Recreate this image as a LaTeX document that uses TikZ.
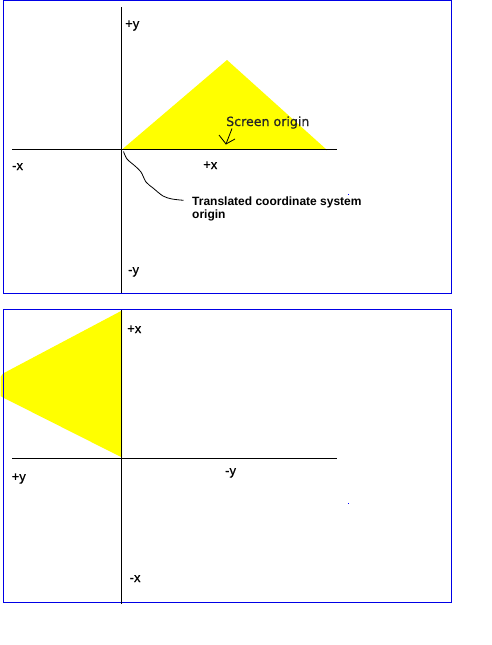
\documentclass[tikz,border=0pt]{standalone}
\usepackage{fontspec}
\setmainfont{Liberation Sans}
\newfontfamily\lblfont[FakeBold=0.6]{Liberation Sans}
\newfontfamily\scrfont[FakeBold=0.8]{DejaVu Sans}
\begin{document}
\begin{tikzpicture}[x=1pt,y=-1pt,
  frame/.style={draw={rgb,255:red,0;green,0;blue,230},line width=1.3pt},
  axis/.style={draw=black,line width=1.1pt},
  lbl/.style={inner sep=0pt,anchor=base west,font=\lblfont\fontsize{13}{13}\selectfont},
  bold/.style={inner sep=0pt,anchor=base west,font=\fontsize{12}{14}\selectfont\bfseries},
  fillY/.style={fill={rgb,255:red,255;green,255;blue,0}}]
\useasboundingbox (0,0) rectangle (491,645);
% ---------- top panel ----------
\fill[fillY] (122,149.5) -- (227,60) -- (327,150) -- cycle;
\draw[frame] (3.3,0.7) rectangle (451.3,293.3);
\coordinate (vt1) at (121.3,7);
\coordinate (vb1) at (121.3,293.3);
\coordinate (hl1) at (12,149.5);
\coordinate (hr1) at (337,149.5);
\draw[axis] (vt1) -- (vb1);
\draw[axis] (hl1) -- (hr1);
\node[lbl] (py1) at (125,28) {+y};
\node[lbl] (mx1) at (12,170) {-x};
\node[lbl] (px1) at (203,169) {+x};
\node[lbl] (my1) at (128,274) {-y};
\node[inner sep=0pt,anchor=base west,font=\scrfont\fontsize{12.6}{13}\selectfont,text=black!85] (scr) at (226,126) {Screen origin};
\coordinate (atail) at (232,128.5);
\coordinate (atip) at (226,144);
\coordinate (ah1) at (219,135);
\coordinate (ah2) at (235,139);
\draw[line width=0.8pt] (atail) -- (atip);
\draw[line width=0.8pt] (ah1) -- (atip) -- (ah2);
\coordinate (O1) at (123.5,151.5);
\node[bold] (trans) at (192,205) {Translated coordinate system};
\node[bold] (trans2) at (192,218.5) {origin};
\coordinate (cend) at (183.5,200.3);
\draw[line width=0.8pt] plot[smooth,tension=0.5] coordinates {(O1) (127,159) (135,166) (141,172) (146,182) (153,188) (163,196) (172,199) (cend)};
\fill[blue] (347.7,193.7) rectangle (348.7,194.7);
% ---------- bottom panel ----------
\fill[fillY] (122,310.5) -- (3,373.5) -- (0.5,377) -- (0.5,396) -- (3,397.5) -- (122,457.5) -- cycle;
\draw[frame] (3.3,309.3) rectangle (451.3,602.3);
\coordinate (vt2) at (121.3,310);
\coordinate (vb2) at (121.3,603.7);
\coordinate (hl2) at (12,458.3);
\coordinate (hr2) at (337,458.3);
\draw[axis] (vt2) -- (vb2);
\draw[axis] (hl2) -- (hr2);
\node[lbl] (px2) at (127,333) {+x};
\node[lbl] (py2) at (11.5,481) {+y};
\node[lbl] (my2) at (225,475) {-y};
\node[lbl] (mx2) at (129.5,582) {-x};
\fill[blue] (347.7,502.7) rectangle (348.7,503.7);
\end{tikzpicture}
\end{document}
